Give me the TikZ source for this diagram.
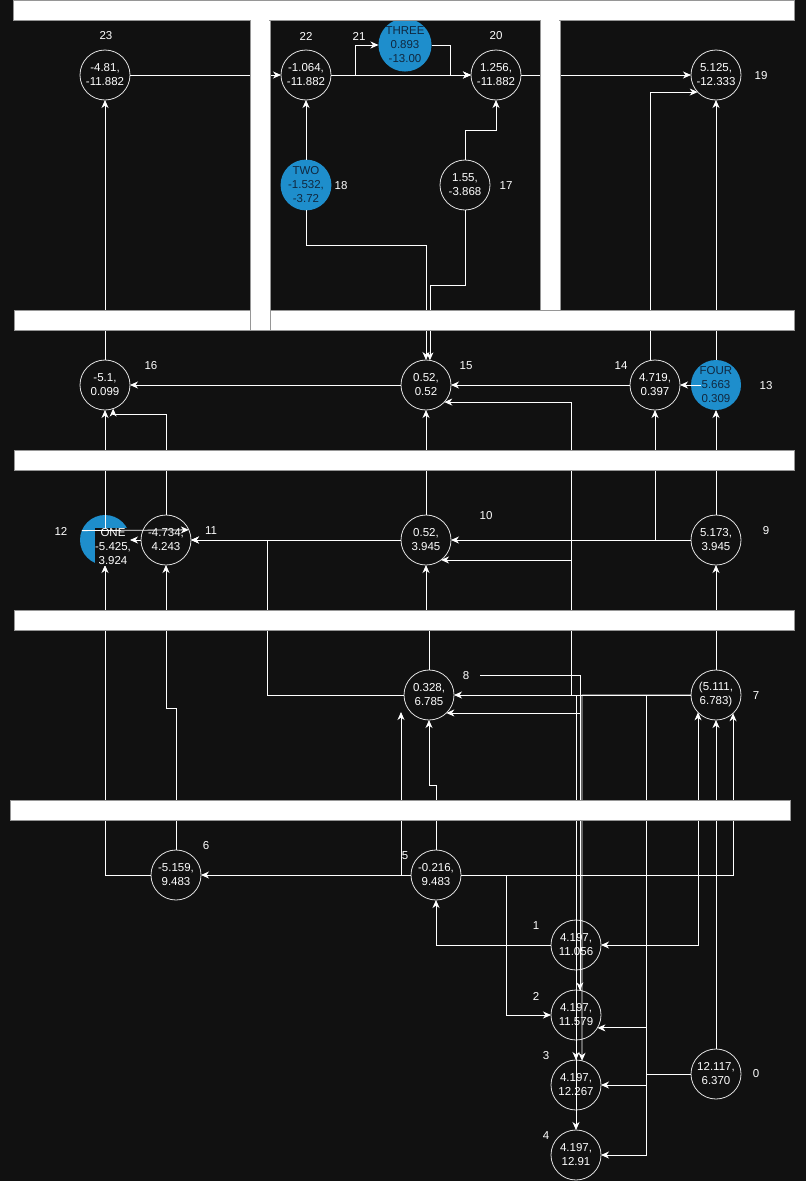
\documentclass[tikz,border=0pt]{standalone}
\usepackage{fontspec}
\setmainfont{Liberation Sans}
\usetikzlibrary{arrows.meta, calc}
\definecolor{canvas}{RGB}{17,17,17}
\definecolor{seed}{RGB}{30,142,204}
\definecolor{seedtext}{RGB}{16,40,64}
\definecolor{wallgray}{RGB}{150,150,150}

\begin{document}
\begin{tikzpicture}[x=1pt, y=-1pt,
    every node/.style={font=\fontsize{11.5}{14}\selectfont, text=white, align=center},
    pt/.style={circle, draw=white!88!black, line width=0.8pt, minimum size=50pt, inner sep=0pt, outer sep=0pt},
    seedpt/.style={pt, draw=none, fill=seed, text=seedtext},
    idx/.style={inner sep=1pt},
    link/.style={draw=white, line width=0.8pt, ->},
    wall/.style={fill=white, draw=wallgray, line width=0.8pt},
    >={Stealth[length=8pt, width=7pt, inset=2.5pt]}]
      \useasboundingbox (0,0) rectangle (806,1181);
      \fill[canvas] (0,0) rectangle (806,1181);

      % points
      \node[pt] (n23) at (105,75) {-4.81,\\-11.882};
      \node[pt] (n22) at (306,75) {-1.064,\\-11.882};
      \node[seedpt] (n21) at (405,45) {THREE\\0.893\\-13.00};
      \node[pt] (n20) at (496,75) {1.256,\\-11.882};
      \node[pt] (n19) at (716,75) {5.125,\\-12.333};
      \node[seedpt] (n18) at (306,185) {TWO\\-1.532,\\-3.72};
      \node[pt] (n17) at (465,185) {1.55,\\-3.868};
      \node[pt] (n16) at (105,385) {-5.1,\\0.099};
      \node[pt] (n15) at (426,385) {0.52,\\0.52};
      \node[pt] (n14) at (655,385) {4.719,\\0.397};
      \node[seedpt] (n13) at (716,385) {FOUR\\5.663\\0.309};
      \node[seedpt] (n12) at (105,540) {};
      \node[pt] (n11) at (166,540) {-4.734,\\4.243};
      \node[pt] (n10) at (426,540) {0.52,\\3.945};
      \node[pt] (n9) at (716,540) {5.173,\\3.945};
      \node[pt] (n8) at (429,695) {0.328,\\6.785};
      \node[pt] (n7) at (716,695) {(5.111,\\6.783)};
      \node[pt] (n6) at (176,875) {-5.159,\\9.483};
      \node[pt] (n5) at (436,875) {-0.216,\\9.483};
      \node[pt] (n1) at (576,945) {4.197,\\11.056};
      \node[pt] (n2) at (576,1015) {4.197,\\11.579};
      \node[pt] (n3) at (576,1085) {4.197,\\12.267};
      \node[pt] (n4) at (576,1155) {4.197,\\12.91};
      \node[pt] (n0) at (716,1074) {12.117,\\6.370};

      % indices
      \node[idx] (i23) at (106,36) {23};
      \node[idx] (i22) at (306,36) {22};
      \node[idx] (i21) at (359,36) {21};
      \node[idx] (i20) at (496,36) {20};
      \node[idx] (i19) at (761,76) {19};
      \node[idx] (i18) at (341,186) {18};
      \node[idx] (i17) at (506,186) {17};
      \node[idx] (i16) at (151,366) {16};
      \node[idx] (i15) at (466,366) {15};
      \node[idx] (i14) at (621,366) {14};
      \node[idx] (i13) at (766,386) {13};
      \node[idx] (i12) at (61,531) {12};
      \node[idx] (i11) at (211,531) {11};
      \node[idx] (i10) at (486,516) {10};
      \node[idx] (i9) at (766,531) {9};
      \node[idx] (i8) at (466,676) {8};
      \node[idx] (i7) at (756,696) {7};
      \node[idx] (i6) at (206,846) {6};
      \node[idx] (i5) at (405,856) {5};
      \node[idx] (i1) at (536,926) {1};
      \node[idx] (i2) at (536,996) {2};
      \node[idx] (i3) at (546,1056) {3};
      \node[idx] (i4) at (546,1136) {4};
      \node[idx] (i0) at (756,1074) {0};

      \coordinate (c8) at (480,675);
      \coordinate (e8) at (401,712);

      % top block
      \draw[link] (n23.east) -- (n22.west);
      \draw[link] (n22.east) -- (n20.west);
      \draw[link] (n22.east) -- (355,75) |- (n21.west);
      \draw[link] (n21.east) -| (450,75) -- (n20.west);
      \draw[link] (n20.east) -- (n19.west);
      \draw[link] (n18.north) -- (n22.south);
      \draw[link] (n17.north) -- (465,130) -| (n20.south);
      \draw[link] (n14.101) |- (n19.-137);
      \draw[link] (n13.north) -- (n19.south);
      \draw[link] (n16.north) -- (n23.south);
      \draw[link] (n18.south) -- (306,245) -| (n15.north);
      \draw[link] (n17.south) -- (465,285) -| (n15.81);

      % middle block
      \draw[link] (n15.west) -- (n16.east);
      \draw[link] (n14.west) -- (n15.east);
      \draw[link] ($(n13.west)+(10,0)$) -- (n14.east);
      \draw[link] (n11.north) -- (166,414) -| (n16.-71);
      \draw[link] (n12.center) -- (n16.south);
      \draw[link] (n10.north) -- (n15.south);
      \draw[link] (n9.north) -- (n13.south);
      \draw[link] (n9.west) -| (n14.south);
      \draw[link] (n9.west) -- (n10.east);
      \draw[link] (n10.west) -- (n11.east);
      \draw[link] (n8.west) -- (267,695) |- (n11.east);
      \draw[link] (n8.north) -- (429,620) -| (n10.south);
      \draw[link] (n6.north) -- (176,708) -| (n11.south);
      \draw[link] (n6.west) -| (n12.south);

      % lower block
      \draw[link] (n7.north) -- (n9.south);
      \draw[link] (n7.west) -- (n8.east);
      \draw[link] (n7.west) -- (571,695) |- (n15.-43);
      \draw[link] (n7.west) -- (571,695) |- (n10.-53);
      \draw[link] (n7.west) -- (576,695) -- (n3.north);
      \draw[link] (n7.west) -- (576,695) -- (n4.north);
      \draw[link] (n7.west) -- (582,695) -- (n3.76);
      \draw[link] (n7.west) -- (646,695) |- (n2.-31);
      \draw[link] (n7.west) -- (646,695) |- (n4.east);
      \draw[link] (n0.north) -- (n7.south);
      \draw[link] (n0.west) -- (646,1074) |- (n3.east);
      \draw[link] (c8) -| (n2.81);
      \draw[link] (n2.81) |- (n8.-46);
      \draw[link, <->] (n1.east) -| (n7.-136);
      \draw[link] (n1.west) -| (n5.south);
      \draw[link] (n5.west) -- (n6.east);
      \draw[link] (n5.west) -| (e8);
      \draw[link] (n5.north) -- (436,785) -| (n8.south);
      \draw[link] (n5.east) -| (n7.-47);
      \draw[link] (n5.east) -- (506,875) |- (n2.west);

      % walls
      \draw[wall] (13,0) rectangle (794,20);
      \draw[wall] (14,310) rectangle (794,330);
      \draw[wall] (14,450) rectangle (794,470);
      \draw[wall] (14,610) rectangle (794,630);
      \draw[wall] (10,800) rectangle (790,820);
      \draw[wall] (250,20) rectangle (270,330);
      \draw[wall] (540,20) rectangle (560,310);
      \fill[white] (251,19) rectangle (269,21);
      \fill[white] (541,19) rectangle (559,21);

      \node[fill=canvas, inner sep=0.5pt] (l12) at (113,547) {ONE\\-5.425,\\3.924};
      \draw[link] (n11.west) -- (n12.east);
      \draw[link] (n12.158) -- (n11.24);
\end{tikzpicture}
\end{document}
